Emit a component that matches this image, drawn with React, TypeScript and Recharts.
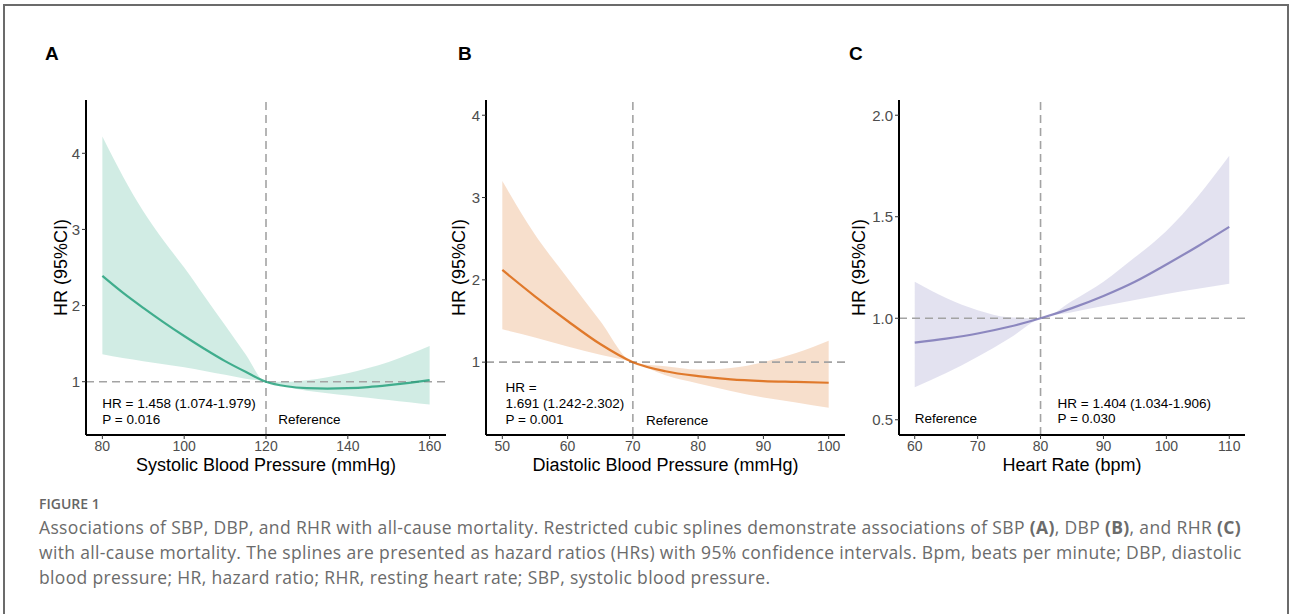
import React from "react";
import { ComposedChart, Area, Line, XAxis, YAxis, ReferenceLine, ReferenceDot } from "recharts";

// panel A: systolic blood pressure
const sbpX = [80, 85, 90, 95, 100, 105, 110, 115, 120, 125, 130, 135, 140, 145, 150, 155, 160];
const sbpHr = [2.39, 2.17, 1.97, 1.78, 1.6, 1.43, 1.27, 1.13, 1.0, 0.94, 0.915, 0.91, 0.915, 0.93, 0.955, 0.985, 1.02];
const sbpLower = [1.36, 1.31, 1.27, 1.23, 1.19, 1.14, 1.09, 1.04, 1.0, 0.93, 0.88, 0.85, 0.82, 0.79, 0.76, 0.73, 0.7];
const sbpUpper = [4.22, 3.7, 3.24, 2.85, 2.5, 2.12, 1.74, 1.36, 1.0, 1.0, 1.02, 1.06, 1.11, 1.18, 1.26, 1.36, 1.47];
const sbpXTicks = [80, 100, 120, 140, 160];
const sbpYTicks = [1, 2, 3, 4];

// panel B: diastolic blood pressure
const dbpX = [50, 55, 60, 65, 70, 75, 80, 85, 90, 95, 100];
const dbpHr = [2.12, 1.8, 1.5, 1.22, 1.0, 0.89, 0.83, 0.79, 0.77, 0.76, 0.75];
const dbpLower = [1.4, 1.3, 1.19, 1.09, 1.0, 0.84, 0.74, 0.65, 0.57, 0.51, 0.445];
const dbpUpper = [3.2, 2.55, 2.02, 1.5, 1.0, 0.95, 0.91, 0.93, 1.0, 1.11, 1.26];
const dbpXTicks = [50, 60, 70, 80, 90, 100];
const dbpYTicks = [1, 2, 3, 4];

// panel C: heart rate
const rhrX = [60, 65, 70, 75, 80, 85, 90, 95, 100, 105, 110];
const rhrHr = [0.88, 0.9, 0.925, 0.958, 1.0, 1.05, 1.11, 1.18, 1.265, 1.355, 1.45];
const rhrLower = [0.66, 0.73, 0.81, 0.9, 1.0, 1.03, 1.06, 1.09, 1.12, 1.145, 1.17];
const rhrUpper = [1.18, 1.1, 1.04, 1.005, 1.0, 1.085, 1.18, 1.3, 1.43, 1.6, 1.8];
const rhrXTicks = [60, 70, 80, 90, 100, 110];
const rhrYTicks = [0.5, 1.0, 1.5, 2.0];

const sbpNotes = [
  { x: 80, y: 0.72, text: "HR = 1.458 (1.074-1.979)" },
  { x: 80, y: 0.51, text: "P = 0.016" },
  { x: 123, y: 0.51, text: "Reference" },
];
const dbpNotes = [
  { x: 50.5, y: 0.698, text: "HR =" },
  { x: 50.5, y: 0.504, text: "1.691 (1.242-2.302)" },
  { x: 50.5, y: 0.309, text: "P = 0.001" },
  { x: 72, y: 0.3, text: "Reference" },
];
const rhrNotes = [
  { x: 60, y: 0.509, text: "Reference" },
  { x: 82.7, y: 0.583, text: "HR = 1.404 (1.034-1.906)" },
  { x: 82.7, y: 0.509, text: "P = 0.030" },
];

const captionLines = [
  "Associations of SBP, DBP, and RHR with all-cause mortality. Restricted cubic splines demonstrate associations of SBP ",
  "with all-cause mortality. The splines are presented as hazard ratios (HRs) with 95% confidence intervals. Bpm, beats per minute; DBP, diastolic",
  "blood pressure; HR, hazard ratio; RHR, resting heart rate; SBP, systolic blood pressure.",
];

const FONT = "'Liberation Sans', Arial, sans-serif";
const DASH = "#a3a3a3";

function makeRows(xs: number[], hr: number[], lo: number[], hi: number[]) {
  return xs.map((x, i) => ({ x, hr: hr[i], ci: [lo[i], hi[i]] }));
}

function Panel(props: any) {
  const { left, width, rows, color, xDomain, xTicks, yDomain, yTicks, refX, xTitle, yWidth, mLeft, mRight, notes, fmt } = props;
  return (
    <div style={{ position: "absolute", left, top: 0, fontFamily: FONT }}>
      <ComposedChart width={width} height={480} data={rows} margin={{ top: 100, right: mRight, bottom: 0, left: mLeft }}>
        <XAxis
          type="number"
          dataKey="x"
          domain={xDomain}
          ticks={xTicks}
          allowDataOverflow
          height={45}
          axisLine={{ stroke: "#000", strokeWidth: 2 }}
          tickLine={{ stroke: "#333" }}
          tickSize={4}
          tickMargin={2}
          tick={{ fill: "#4d4d4d", fontSize: 14 }}
          label={{ value: xTitle, position: "insideBottom", offset: 9, fill: "#000", fontSize: 18 }}
        />
        <YAxis
          type="number"
          domain={yDomain}
          ticks={yTicks}
          allowDataOverflow
          width={yWidth}
          axisLine={{ stroke: "#000", strokeWidth: 2 }}
          tickLine={{ stroke: "#333" }}
          tickSize={4}
          tickMargin={2}
          tickFormatter={fmt}
          tick={{ fill: "#4d4d4d", fontSize: 15 }}
          label={{ value: "HR (95%CI)", angle: -90, position: "center", fill: "#000", fontSize: 18 }}
        />
        <Area dataKey="ci" type="monotone" stroke="none" fill={color} fillOpacity={0.2} isAnimationActive={false} />
        <ReferenceLine x={refX} stroke={DASH} strokeDasharray="8 5" strokeWidth={1.6} />
        <ReferenceLine y={1} stroke={DASH} strokeDasharray="8 5" strokeWidth={1.6} />
        <Line dataKey="hr" type="monotone" stroke={color} strokeOpacity={0.8} strokeWidth={2.2} dot={false} isAnimationActive={false} />
        {notes.map((n: any) => (
          <ReferenceDot
            key={n.text}
            x={n.x}
            y={n.y}
            r={0}
            fill="none"
            stroke="none"
            label={{ value: n.text, position: "right", offset: 0, fill: "#000", fontSize: 13.5 }}
          />
        ))}
      </ComposedChart>
    </div>
  );
}

const letterStyle: React.CSSProperties = {
  position: "absolute",
  top: 44,
  fontFamily: FONT,
  fontWeight: 700,
  fontSize: 19,
  lineHeight: "19px",
  color: "#000",
};

export default function App() {
  const capStyle: React.CSSProperties = {
    position: "absolute",
    left: 39,
    whiteSpace: "nowrap",
    fontFamily: "'Open Sans', sans-serif",
    fontSize: 17.5,
    letterSpacing: 0.35,
    lineHeight: "25px",
    color: "#6b6b6b",
  };
  return (
    <div style={{ position: "absolute", left: 0, top: 0, width: 1290, height: 614, background: "#fff", overflow: "hidden" }}>
      <div
        style={{
          position: "absolute",
          left: 3,
          top: 4,
          width: 1286,
          height: 700,
          boxSizing: "border-box",
          border: "2px solid #6b6b6b",
        }}
      />
      <Panel
        left={0}
        width={460}
        rows={makeRows(sbpX, sbpHr, sbpLower, sbpUpper)}
        color="#1b9e77"
        xDomain={[76, 164]}
        xTicks={sbpXTicks}
        yDomain={[0.3, 4.7]}
        yTicks={sbpYTicks}
        refX={120}
        xTitle="Systolic Blood Pressure (mmHg)"
        yWidth={51}
        mLeft={35}
        mRight={14}
        notes={sbpNotes}
        fmt={(v: number) => String(v)}
      />
      <Panel
        left={420}
        width={440}
        rows={makeRows(dbpX, dbpHr, dbpLower, dbpUpper)}
        color="#d95f02"
        xDomain={[47.5, 102.5]}
        xTicks={dbpXTicks}
        yDomain={[0.115, 4.185]}
        yTicks={dbpYTicks}
        refX={70}
        xTitle="Diastolic Blood Pressure (mmHg)"
        yWidth={54}
        mLeft={12}
        mRight={15}
        notes={dbpNotes}
        fmt={(v: number) => String(v)}
      />
      <Panel
        left={800}
        width={470}
        rows={makeRows(rhrX, rhrHr, rhrLower, rhrUpper)}
        color="#7570b3"
        xDomain={[57.5, 112.5]}
        xTicks={rhrXTicks}
        yDomain={[0.425, 2.075]}
        yTicks={rhrYTicks}
        refX={80}
        xTitle="Heart Rate (bpm)"
        yWidth={80}
        mLeft={19}
        mRight={25}
        notes={rhrNotes}
        fmt={(v: number) => v.toFixed(1)}
      />
      <div style={{ ...letterStyle, left: 45 }}>A</div>
      <div style={{ ...letterStyle, left: 458 }}>B</div>
      <div style={{ ...letterStyle, left: 849 }}>C</div>
      <div
        style={{
          position: "absolute",
          left: 39,
          top: 494,
          fontFamily: "'Open Sans', sans-serif",
          fontWeight: 600,
          fontSize: 14,
          lineHeight: "20px",
          color: "#666",
        }}
      >
        FIGURE 1
      </div>
      <div style={{ ...capStyle, top: 515 }}>
        {captionLines[0]}
        <b>(A)</b>, DBP <b>(B)</b>, and RHR <b>(C)</b>
      </div>
      <div style={{ ...capStyle, top: 540 }}>{captionLines[1]}</div>
      <div style={{ ...capStyle, top: 565 }}>{captionLines[2]}</div>
    </div>
  );
}
